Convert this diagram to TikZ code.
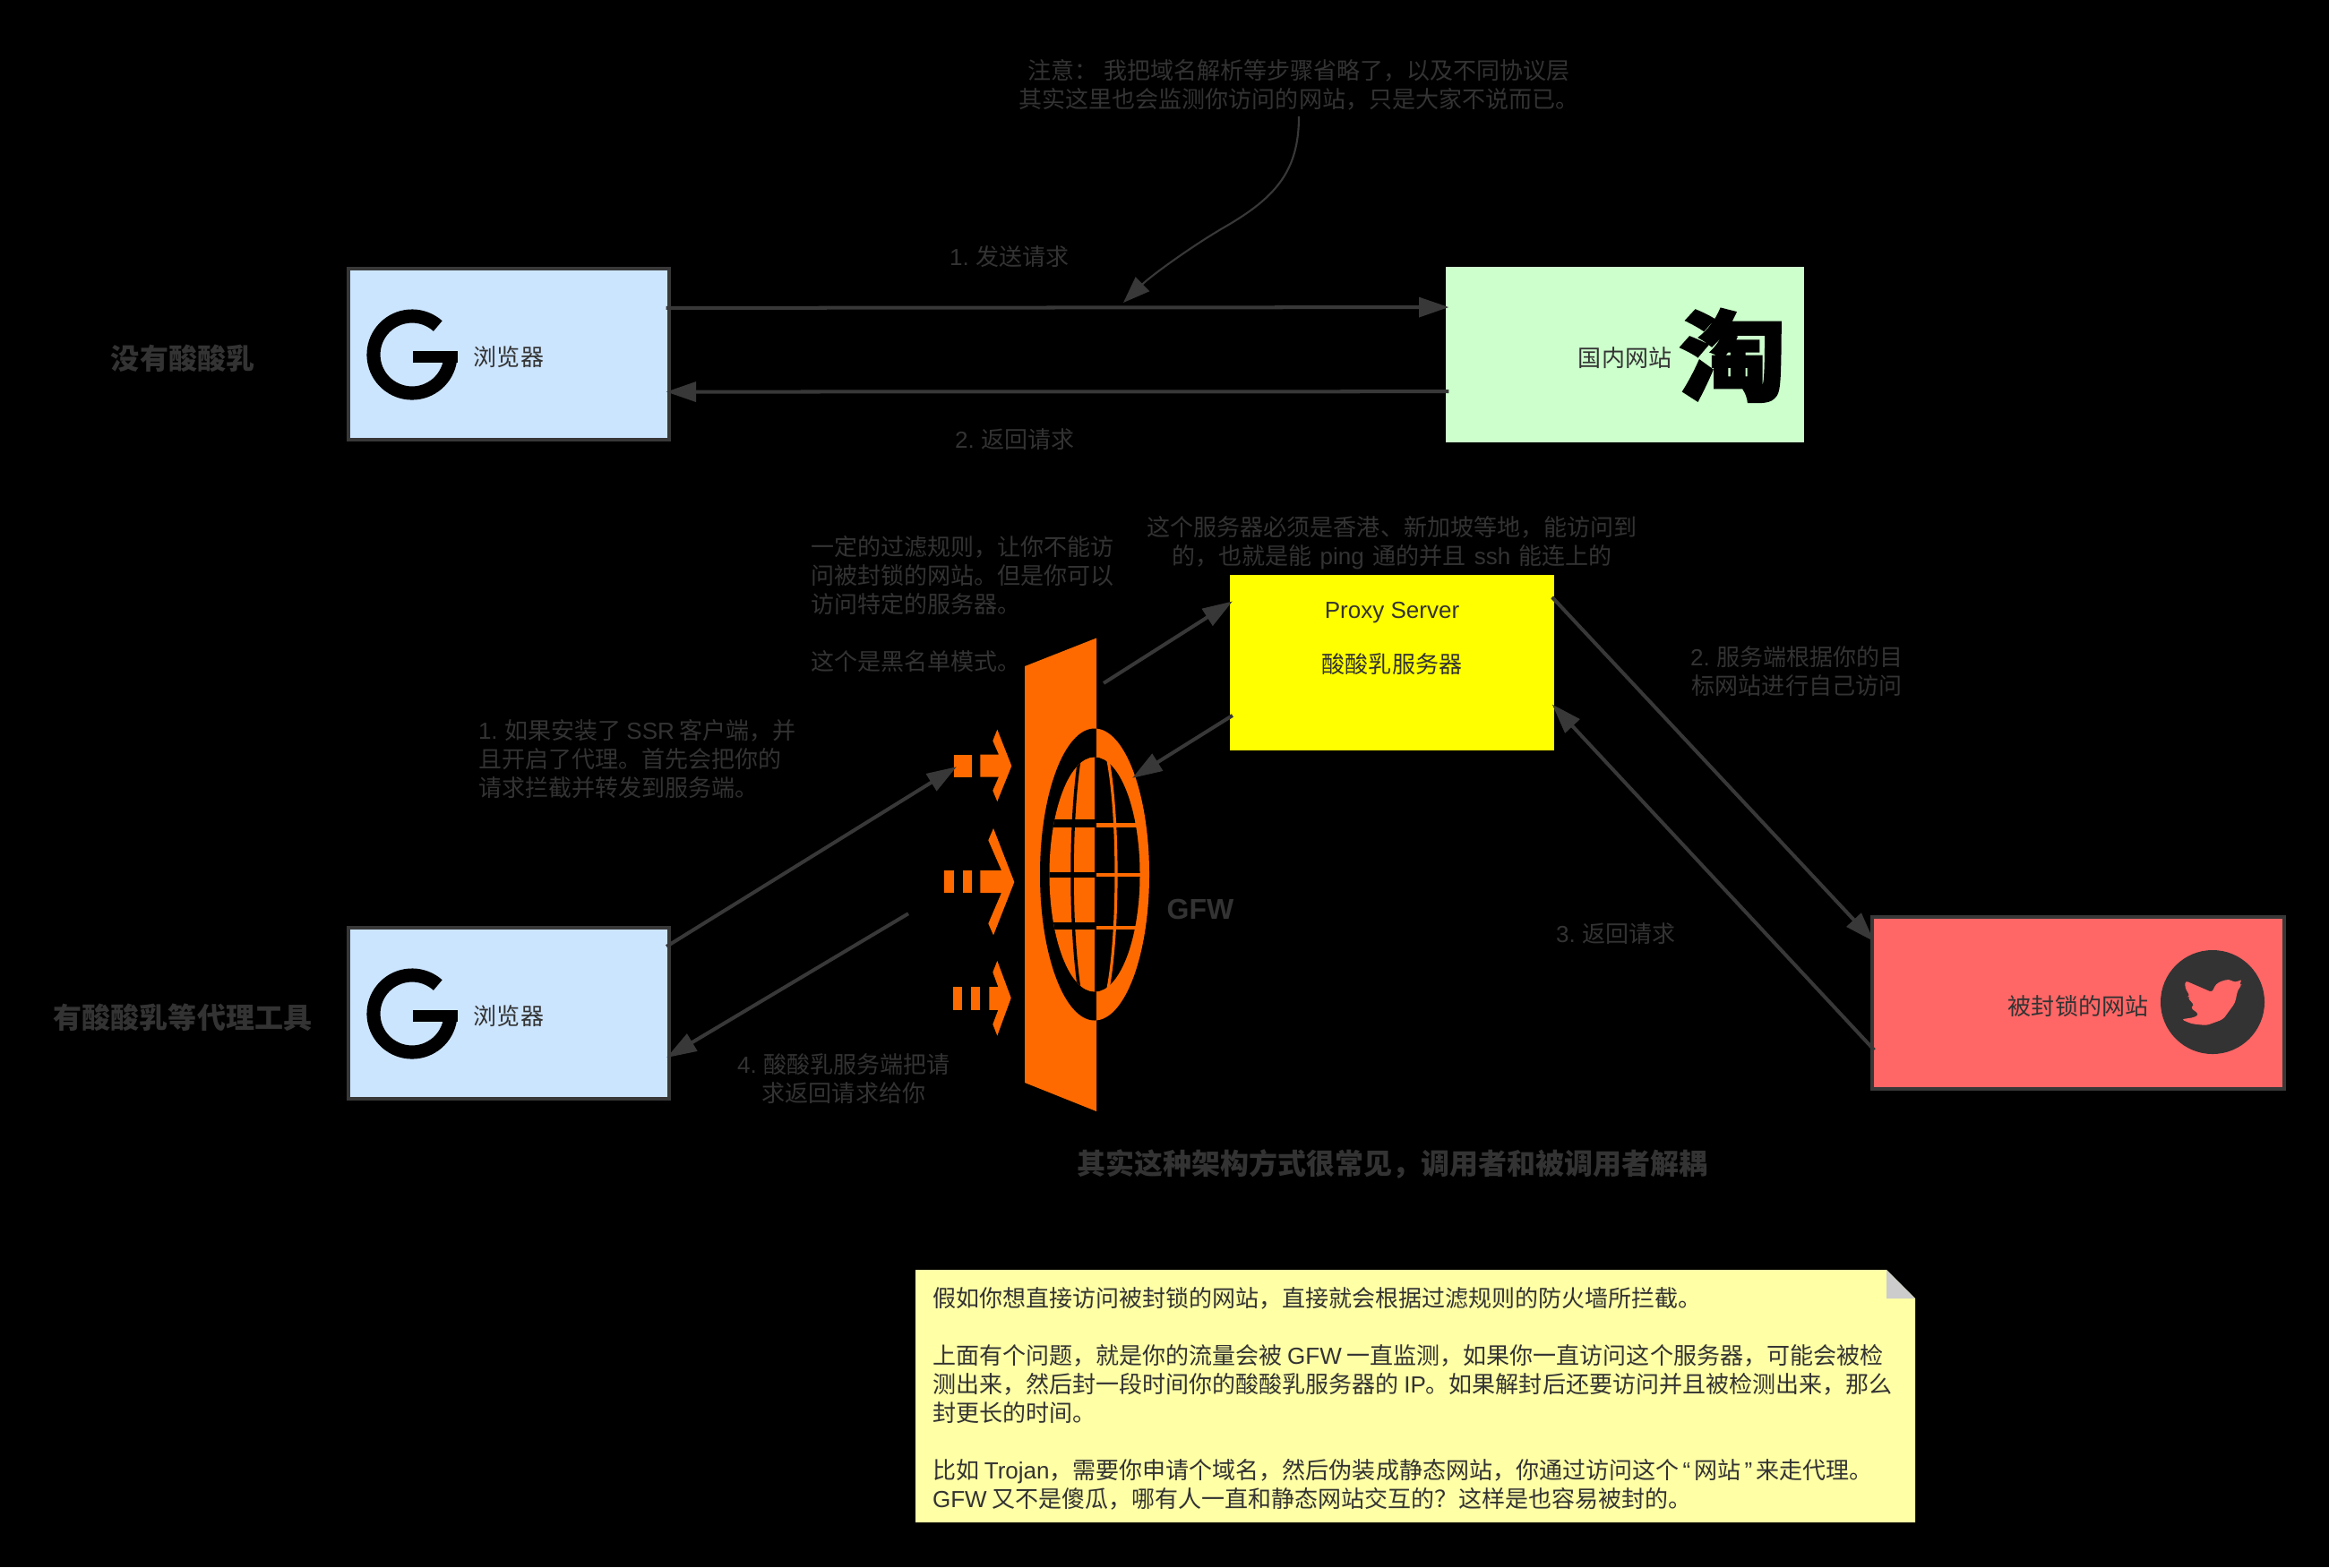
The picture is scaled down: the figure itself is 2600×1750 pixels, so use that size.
\documentclass[tikz,border=0pt]{standalone}
\usepackage{fontspec}
\setmainfont{Noto Sans CJK SC}
\newfontfamily\enfont{Liberation Sans}
\newfontfamily\logofont[BoldFeatures={FakeBold=2}]{Noto Sans CJK SC}
\usetikzlibrary{arrows.meta,calc}
\definecolor{inkgray}{HTML}{333333}
\definecolor{framegray}{HTML}{383838}
\definecolor{wallorange}{HTML}{FF6A00}
\definecolor{bluefill}{HTML}{CCE5FF}
\definecolor{greenfill}{HTML}{CCFFCC}
\definecolor{redfill}{HTML}{FF6666}
\definecolor{proxyfill}{RGB}{255,255,0}
\definecolor{notefill}{HTML}{FFFFA6}
\definecolor{foldfill}{HTML}{CCCCCC}
\def\en#1{{\enfont #1}}
\def\logoG(#1,#2){%
	\draw[line width=4.3pt, black] plot[domain=48:352, samples=60, smooth] ({#1+43*cos(\x)}, {#2-43*sin(\x)});
	\fill[black] (#1+1, #2-4) rectangle (#1+51, #2+9);}
\tikzset{
	basetext/.style={inner sep=0pt, outer sep=0pt, text=inkgray, font=\fontsize{7.4}{9.1}\selectfont},
	boldtext/.style={basetext, font=\fontsize{9.1}{10}\selectfont\bfseries},
	boxtext/.style={basetext, text height=8.6pt, text depth=1pt},
	framebox/.style={boxtext, draw=framegray, line width=1.14pt, minimum width=3.58cm, minimum height=1.91cm},
	flatbox/.style={boxtext, minimum width=#1, minimum height=1.96cm},
	flow/.style={draw=framegray, line width=1.14pt, shorten <=-1pt, shorten >=-1pt, -{Triangle[length=9.5pt, width=6.2pt]}},
	thinflow/.style={draw=framegray, line width=0.6pt, -{Triangle[length=8.5pt, width=6.2pt]}}
}

\begin{document}
\begin{tikzpicture}[x=0.01cm, y=-0.01cm]
	%%%%% START %%%%%

	\fill[black] (0, 0) rectangle (2600, 1750);

	\node[framebox, fill=bluefill] (browserTop) at (568, 395.5) {浏览器};
	\node[flatbox=4cm, fill=greenfill] (siteCn) at (1814, 396) {国内网站};
	\node[framebox, fill=bluefill] (browserLow) at (568, 1131.5) {浏览器};
	\node[flatbox=3.62cm, fill=proxyfill] (proxy) at (1554, 740) {};
	\node[framebox, minimum width=4.6cm, minimum height=1.92cm, fill=redfill] (siteBlocked) at (2320, 1120) {被封锁的网站};

	\logoG(460, 396)
	\logoG(460, 1132)
	\node[text=black, inner sep=0pt, yscale=0.92, font=\fontsize{34}{34}\selectfont\logofont\bfseries] (taobao) at (1934, 397) {淘};

	\fill[inkgray] (2470, 1119) circle (58);
	\fill[rounded corners=1pt, redfill] (2439.3, 1095) -- (2470, 1108.3) -- (2471.7, 1101.7) -- (2476.7, 1096.7) -- (2488.3, 1093.3) -- (2495, 1097.3) -- (2503.3, 1093.3) -- (2499.3, 1100) -- (2503.3, 1099.3) -- (2498.3, 1105) -- (2495, 1120) -- (2481.7, 1138.3) -- (2463.3, 1145) -- (2446.7, 1143.3) -- (2435, 1138.3) -- (2450, 1136) -- (2455, 1132.7) -- (2445, 1125) -- (2450, 1123.3) -- (2441.7, 1113.3) -- (2445, 1112.7) -- (2439.3, 1103.3) -- cycle;

	% wall
	\fill[wallorange] (1144, 744) -- (1224, 712.5) -- (1224, 1241) -- (1144, 1209) -- cycle;

	% globe, left half on the wall
	\begin{scope}
		\clip (1100, 700) rectangle (1224, 1250);
		\fill[black] (1222, 976.5) ellipse [x radius=61, y radius=163];
		\clip (1222, 976.5) ellipse [x radius=50.5, y radius=131];
		\fill[wallorange] (1100, 700) rectangle (1224, 1250);
		\draw[black, line width=2.3pt] (1160, 919.5) -- (1224, 919.5);
		\draw[black, line width=1.5pt] (1160, 977) -- (1224, 977);
		\draw[black, line width=2.2pt] (1160, 1034) -- (1224, 1034);
		\draw[black, line width=1pt] (1224, 976.5) ellipse [x radius=27, y radius=182];
		\fill[black] (1222, 800) rectangle (1224, 1150);
	\end{scope}

	% globe, right half on black
	\begin{scope}
		\clip (1224, 700) rectangle (1300, 1250);
		\fill[wallorange] (1222, 976.5) ellipse [x radius=61, y radius=163];
		\fill[black] (1222, 976.5) ellipse [x radius=50.5, y radius=131];
		\draw[wallorange, line width=1.3pt] (1224, 921.5) -- (1275, 921.5);
		\draw[wallorange, line width=1.3pt] (1224, 977) -- (1275, 977);
		\draw[wallorange, line width=1.3pt] (1224, 1036) -- (1275, 1036);
		\draw[wallorange, line width=0.9pt] (1224, 976.5) ellipse [x radius=22, y radius=158];
	\end{scope}

	% dashed arrows at the wall
	\fill[wallorange] (1065.3, 842.6) rectangle (1085, 867.5);
	\fill[wallorange] (1094.3, 842.6) -- (1115, 842.6) -- (1108.3, 827.3) -- (1113.3, 814.7) -- (1129.3, 855.3) -- (1113.3, 895) -- (1108.3, 882.8) -- (1115, 867.5) -- (1094.3, 867.5) -- cycle;

	\fill[wallorange] (1054.3, 972) rectangle (1065, 997);
	\fill[wallorange] (1075, 972) rectangle (1085, 997);
	\fill[wallorange] (1094.3, 972) -- (1118, 972) -- (1103.3, 938.3) -- (1109, 925) -- (1132.3, 985) -- (1109, 1044.3) -- (1103.3, 1031.3) -- (1118, 997) -- (1094.3, 997) -- cycle;

	\fill[wallorange] (1064.3, 1102) rectangle (1074.3, 1127.8);
	\fill[wallorange] (1084.3, 1102) rectangle (1094.3, 1127.8);
	\fill[wallorange] (1104.3, 1102) -- (1114.3, 1102) -- (1108.3, 1085.7) -- (1113.3, 1073) -- (1128.7, 1114.4) -- (1113.3, 1156.5) -- (1108.3, 1143.8) -- (1114.3, 1127.8) -- (1104.3, 1127.8) -- cycle;

	% labels
	\node[boldtext] (labelPlain) at (204, 400) {没有酸酸乳};
	\node[boldtext] (labelProxy) at (204, 1136) {有酸酸乳等代理工具};
	\node[boldtext] (labelSummary) at (1554, 1300) {其实这种架构方式很常见，调用者和被调用者解耦};
	\node[basetext, font=\fontsize{9.1}{10}\enfont\bfseries] (labelWall) at (1340, 1015) {GFW};

	\node[basetext, align=center] (noteTop) at (1450, 94.5) {注意：\hspace{1.9pt}我把域名解析等步骤省略了，以及不同协议层\\其实这里也会监测你访问的网站，只是大家不说而已。};
	\node[basetext] (stepSend) at (1127, 287) {\en{1.} 发送请求};
	\node[basetext] (stepBack) at (1133, 491) {\en{2.} 返回请求};
	\node[basetext, align=center] (noteProxy) at (1554, 606) {这个服务器必须是香港、新加坡等地，能访问到\\的，也就是能\hspace{2.7pt}\en{ping}\hspace{2.7pt}通的并且\hspace{2.7pt}\en{ssh}\hspace{2.7pt}能连上的};
	\node[basetext, align=left, anchor=west] (noteFilter) at (905, 675) {一定的过滤规则，让你不能访\\问被封锁的网站。但是你可以\\访问特定的服务器。\\~\\这个是黑名单模式。};
	\node[basetext, align=left, anchor=west] (stepOne) at (534, 847.5) {\en{1.} 如果安装了 \en{SSR} 客户端，并\\且开启了代理。首先会把你的\\请求拦截并转发到服务端。};
	\node[basetext, align=center] (stepTwo) at (2006, 750) {\en{2.} 服务端根据你的目\\标网站进行自己访问};
	\node[basetext] (stepThree) at (1804, 1043) {\en{3.} 返回请求};
	\node[basetext, align=center] (stepFour) at (942, 1204.5) {\en{4.} 酸酸乳服务端把请\\求返回请求给你};
	\node[basetext, align=center] (proxyText) at ($(proxy.center)+(0, -27)$) {\en{Proxy Server}\\[8pt]酸酸乳服务器};

	% sticky note
	\fill[notefill] (1022, 1418) -- (2106, 1418) -- (2138, 1450) -- (2138, 1700) -- (1022, 1700) -- cycle;
	\fill[foldfill] (2106, 1418) -- (2138, 1450) -- (2106, 1450) -- cycle;
	\node[basetext, align=left, anchor=west] (noteBody) at (1041, 1562) {假如你想直接访问被封锁的网站，直接就会根据过滤规则的防火墙所拦截。\\~\\上面有个问题，就是你的流量会被 \en{GFW} 一直监测，如果你一直访问这个服务器，可能会被检\\测出来，然后封一段时间你的酸酸乳服务器的 \en{IP}。如果解封后还要访问并且被检测出来，那么\\封更长的时间。\\~\\比如 \en{Trojan}，需要你申请个域名，然后伪装成静态网站，你通过访问这个\hspace{1.2pt}\en{“}\hspace{1.2pt}网站\hspace{1.2pt}\en{”}\hspace{1.2pt}来走代理。\\\en{GFW} 又不是傻瓜，哪有人一直和静态网站交互的？这样是也容易被封的。};

	% free ends at the wall
	\coordinate (wallIn) at (1065, 858);
	\coordinate (wallOut) at (1011, 1022);
	\coordinate (wallUp) at (1235, 761);
	\coordinate (wallHit) at (1267, 867);
	\coordinate (sendHit) at (1254, 338);

	% connectors
	\draw[flow] ($(browserTop.north east)!0.23!(browserTop.south east)$) -- ($(siteCn.north west)!0.23!(siteCn.south west)$);
	\draw[flow] ($(siteCn.north west)!0.71!(siteCn.south west)$) -- ($(browserTop.north east)!0.72!(browserTop.south east)$);
	\draw[flow] ($(browserLow.north east)!0.1!(browserLow.south east)$) -- (wallIn);
	\draw[flow] (wallOut) -- ($(browserLow.north east)!0.75!(browserLow.south east)$);
	\draw[flow] (wallUp) -- ($(proxy.north west)!0.16!(proxy.south west)$);
	\draw[flow] ($(proxy.north west)!0.81!(proxy.south west)$) -- (wallHit);
	\draw[flow] ($(proxy.north east)!0.14!(proxy.south east)$) -- ($(siteBlocked.north west)!0.13!(siteBlocked.south west)$);
	\draw[flow] ($(siteBlocked.north west)!0.76!(siteBlocked.south west)$) -- ($(proxy.north east)!0.75!(proxy.south east)$);
	\draw[thinflow] ($(noteTop.south)+(0, 7)$) .. controls (1450, 190) and (1425, 220) .. (1368, 253) .. controls (1330, 275) and (1285, 308) .. (sendHit);

	%%%%% END %%%%%
\end{tikzpicture}
\end{document}
